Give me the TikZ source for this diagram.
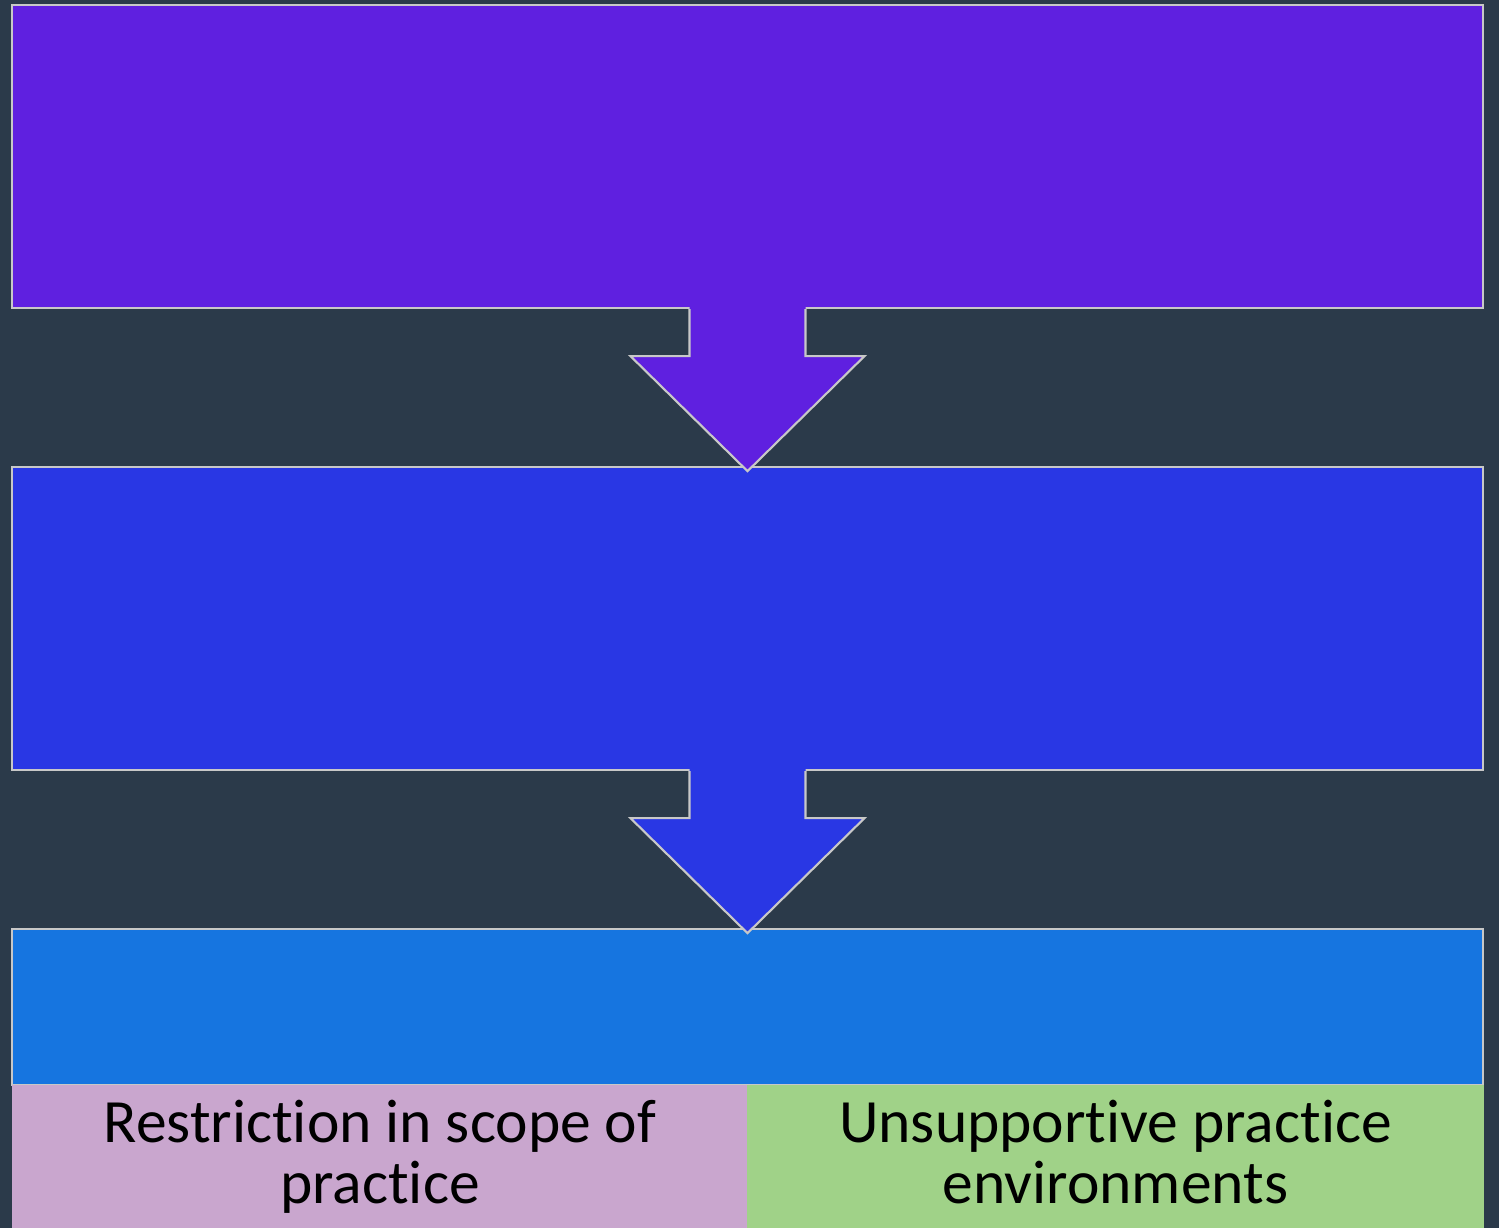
\documentclass[tikz,border=0pt]{standalone}
\usepackage{fontspec}
\setmainfont{Carlito}[Ligatures=NoCommon]
\usetikzlibrary{positioning,calc}
\definecolor{backdrop}{HTML}{2B3A4A}
\definecolor{edge}{HTML}{C8C8C8}
\definecolor{stepone}{HTML}{5F20E0}
\definecolor{steptwo}{HTML}{2937E4}
\definecolor{stepthree}{HTML}{1675E0}
\definecolor{scopepink}{HTML}{C9A6CE}
\definecolor{envgreen}{HTML}{A0D288}
\tikzset{%
  box/.style      = {draw=edge, line width=0.6pt, rectangle, inner sep=0pt,
    minimum width = 14.71cm, minimum height = 3.03cm},
  band/.style     = {draw=edge, line width=0.6pt, rectangle, inner sep=0pt,
    minimum width = 14.71cm, minimum height = 1.56cm},
  half/.style     = {rectangle, inner sep=0pt, minimum width = 7.36cm,
    minimum height = 1.51cm, align = center,
    font = \fontsize{17.5}{17.4}\selectfont}, % lower cells
  edgeline/.style = {draw=edge, line width=0.6pt, line join=miter}
}
% down arrow hanging under a box
\newcommand{\flowarrow}[2]{%
  \fill[#2] ($(#1.south)+(-58,-3)$) -- ++(0,50) -- ++(-59,0) -- ++(117,115)
    -- ++(117,-115) -- ++(-59,0) -- ++(0,-50) -- cycle;
  \draw[edgeline] ($(#1.south)+(-58,0)$) -- ++(0,47) -- ++(-59,0) -- ++(117,115)
    -- ++(117,-115) -- ++(-59,0) -- ++(0,-47);
}
\begin{document}
\begin{tikzpicture}[x=0.01cm, y=-0.01cm]

  \fill[backdrop] (0,0) rectangle (1499,1228);
  \useasboundingbox (0,0) rectangle (1499,1228);

  \node at (747.5,156.5) [box, fill=stepone] (first) {};
  \node at (747.5,618.5) [box, fill=steptwo] (second) {};
  \node at (747.5,1007) [band, fill=stepthree] (third) {};
  \node at (380,1160.5) [half, fill=scopepink] (scope) {\strut Restriction in scope of\\practice\strut};
  \node at (1115.5,1160.5) [half, fill=envgreen] (env) {\strut Unsupportive practice\\environments\strut};
  % \draw (scope.north east) -- (scope.south east);

  \flowarrow{first}{stepone}
  \flowarrow{second}{steptwo}

\end{tikzpicture}
\end{document}
